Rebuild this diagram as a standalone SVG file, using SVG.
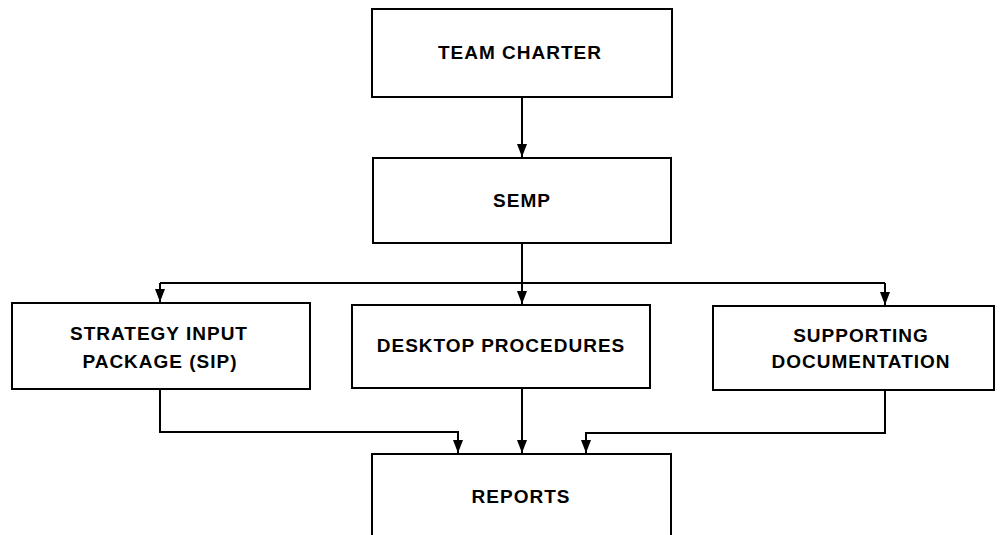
<svg xmlns="http://www.w3.org/2000/svg" width="1000" height="535" viewBox="0 0 1000 535">
  <style>
    .box { fill: #fff; stroke: #000; stroke-width: 2; }
    .lbl { font-family: "Liberation Sans", Arial, sans-serif; font-weight: bold; font-size: 19px; letter-spacing: 1px; text-anchor: middle; fill: #000; }
    .wire { fill: none; stroke: #000; stroke-width: 2; }
  </style>
  <defs>
    <!-- filled triangular head, drawn pointing along +x so orient="auto" follows the wire -->
    <marker id="arrow" viewBox="0 0 13 10" refX="13" refY="5" markerWidth="13" markerHeight="10" markerUnits="userSpaceOnUse" orient="auto">
      <path d="M0,0 L13,5 L0,10 Z" fill="#000"/>
    </marker>
  </defs>
  <rect width="1000" height="535" fill="#fff"/>

  <g id="connectors">
    <!-- team charter to SEMP -->
    <line class="wire" x1="522" y1="97" x2="522" y2="157" marker-end="url(#arrow)"/>
    <!-- SEMP fan-out -->
    <line class="wire" x1="522" y1="243" x2="522" y2="283"/>
    <line class="wire" x1="160" y1="283" x2="885" y2="283"/>
    <line class="wire" x1="160" y1="283" x2="160" y2="302" marker-end="url(#arrow)"/>
    <line class="wire" x1="522" y1="283" x2="522" y2="304" marker-end="url(#arrow)"/>
    <line class="wire" x1="885" y1="283" x2="885" y2="305" marker-end="url(#arrow)"/>
    <!-- fan-in to reports -->
    <polyline class="wire" points="160,389 160,432 458,432 458,453" marker-end="url(#arrow)"/>
    <line class="wire" x1="522" y1="388" x2="522" y2="453" marker-end="url(#arrow)"/>
    <polyline class="wire" points="885,390 885,433 586,433 586,453" marker-end="url(#arrow)"/>
  </g>

  <g id="team-charter">
    <rect class="box" x="372" y="9" width="300" height="88"/>
    <text class="lbl" x="520" y="59">TEAM CHARTER</text>
  </g>

  <g id="semp">
    <rect class="box" x="373" y="158" width="298" height="85"/>
    <text class="lbl" x="522" y="207">SEMP</text>
  </g>

  <g id="sip">
    <rect class="box" x="12" y="303" width="298" height="86"/>
    <text class="lbl" x="159" y="340">STRATEGY INPUT</text>
    <text class="lbl" x="160" y="368">PACKAGE (SIP)</text>
  </g>

  <g id="desktop-procedures">
    <rect class="box" x="352" y="305" width="298" height="83"/>
    <text class="lbl" x="501" y="352">DESKTOP PROCEDURES</text>
  </g>

  <g id="supporting-documentation">
    <rect class="box" x="713" y="306" width="281" height="84"/>
    <text class="lbl" x="861" y="342">SUPPORTING</text>
    <text class="lbl" x="861" y="368">DOCUMENTATION</text>
  </g>

  <g id="reports">
    <rect class="box" x="372" y="454" width="299" height="100"/>
    <text class="lbl" x="521" y="503">REPORTS</text>
  </g>
</svg>
